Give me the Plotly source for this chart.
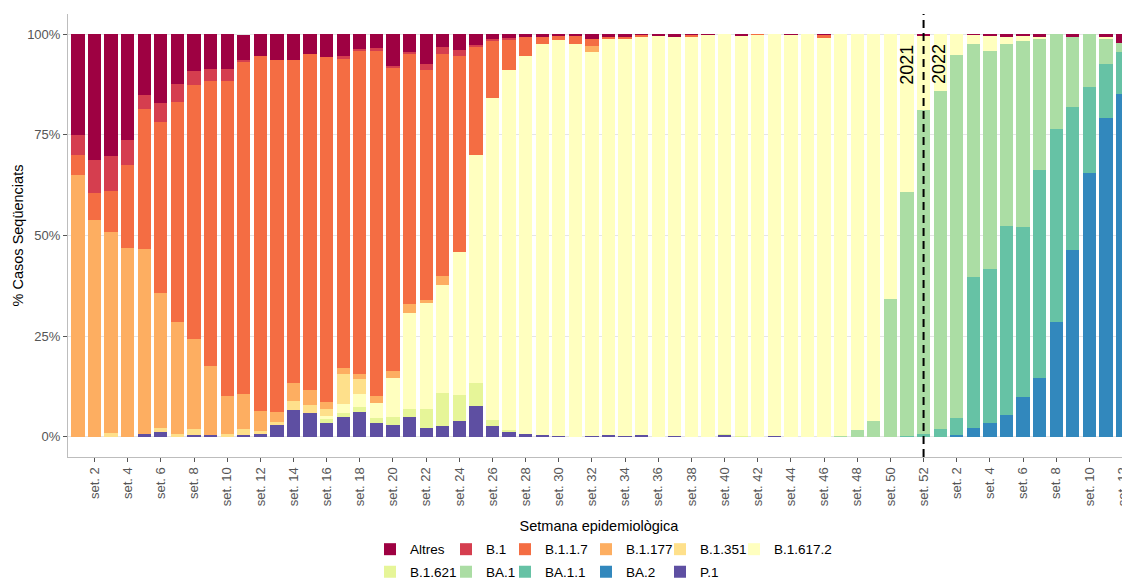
import plotly.graph_objects as go

# ---------------- data ----------------
weeks = ([f"2021-{i:02d}" for i in range(1, 53)] +
         [f"2022-{i:02d}" for i in range(1, 13)])

tick_weeks = ["2021-02", "2021-04", "2021-06", "2021-08", "2021-10", "2021-12",
              "2021-14", "2021-16", "2021-18", "2021-20", "2021-22", "2021-24",
              "2021-26", "2021-28", "2021-30", "2021-32", "2021-34", "2021-36",
              "2021-38", "2021-40", "2021-42", "2021-44", "2021-46", "2021-48",
              "2021-50", "2021-52",
              "2022-02", "2022-04", "2022-06", "2022-08", "2022-10", "2022-12"]
tick_labels = ["set. 2", "set. 4", "set. 6", "set. 8", "set. 10", "set. 12",
               "set. 14", "set. 16", "set. 18", "set. 20", "set. 22", "set. 24",
               "set. 26", "set. 28", "set. 30", "set. 32", "set. 34", "set. 36",
               "set. 38", "set. 40", "set. 42", "set. 44", "set. 46", "set. 48",
               "set. 50", "set. 52",
               "set. 2", "set. 4", "set. 6", "set. 8", "set. 10", "set. 12"]

altres = [25, 31.2, 30.2, 26.4, 15.1, 17.1, 12.3, 9.1, 8.7, 8.7, 6.2, 5.5, 6.4,
          6.5, 5.0, 5.7, 5.5, 3.7, 3.5, 8.0, 4.5, 7.3, 3.2, 3.9, 2.6, 1.2,
          1.0, 0.6, 0.7, 0.5, 0.5, 1.3, 0.8, 0.7, 0.2, 0.4, 0.7, 0.2, 0.2,
          0, 0.3, 0, 0, 0.2, 0, 0.1, 0, 0, 0, 0, 0, 0.4,
          0, 0, 0.2, 0.3, 0.8, 0.3, 0.6, 0, 0.6, 0, 0.7, 2.3]
b1 = [5, 8.3, 8.7, 6.0, 3.5, 4.8, 4.6, 3.5, 2.9, 2.9, 0.7, 0, 0,
      0, 0, 0, 0.7, 0.3, 0.6, 0.4, 0.4, 1.5, 1.7, 1.5, 0.6, 0.3,
      0.3, 0, 0, 0, 0, 0, 0, 0, 0, 0, 0, 0, 0,
      0, 0, 0, 0, 0, 0, 0, 0, 0, 0, 0, 0, 0,
      0, 0, 0, 0, 0, 0, 0, 0, 0, 0, 0, 0]
b117 = [5, 6.6, 10.2, 20.7, 34.7, 42.3, 54.5, 63.2, 70.8, 78.3, 82.4, 88.1, 87.4,
        80.1, 83.4, 85.6, 76.8, 80.3, 85.8, 75.3, 62.1, 57.1, 55.1, 48.7, 26.7, 14.3,
        7.7, 4.8, 1.7, 1.0, 1.9, 1.7, 0.4, 0.3, 0.4, 0, 0, 0.4, 0,
        0, 0, 0.2, 0, 0, 0, 0.8, 0, 0, 0, 0, 0, 0,
        0, 0, 0, 0, 0, 0, 0, 0, 0, 0, 0, 0]
b1177 = [65, 53.9, 49.9, 46.9, 46.0, 33.5, 27.9, 22.3, 17.2, 9.5, 8.7, 5.0, 2.6,
         4.4, 3.7, 1.7, 1.3, 1.4, 1.7, 1.8, 2.2, 0.8, 2.4, 0, 0, 0,
         0, 0, 0, 0, 0, 1.4, 0, 0, 0, 0, 0, 0, 0,
         0, 0, 0, 0, 0, 0, 0, 0, 0, 0, 0, 0, 0,
         0, 0, 0, 0, 0, 0, 0, 0, 0, 0, 0, 0]
b1351 = [0, 0, 1.0, 0, 0, 1.2, 0.7, 1.5, 0, 0.6, 1.4, 0.8, 0.7,
         2.3, 1.9, 1.8, 7.6, 3.7, 0, 0, 0, 0, 0, 0, 0, 0,
         0, 0, 0, 0, 0, 0, 0, 0, 0, 0, 0, 0, 0,
         0, 0, 0, 0, 0, 0, 0, 0, 0, 0, 0, 0, 0,
         0, 0, 0, 0, 0, 0, 0, 0, 0, 0, 0, 0]
b16172 = [0, 0, 0, 0, 0, 0, 0, 0, 0, 0, 0, 0, 0,
          0, 0, 0.8, 2.1, 3.1, 3.7, 9.6, 23.9, 26.3, 26.6, 35.5, 56.6, 80.1,
          89.4, 93.9, 97.2, 98.2, 97.6, 95.3, 98.3, 98.7, 98.9, 99.6, 99.0, 99.4, 99.8,
          99.2, 99.5, 99.8, 99.7, 99.8, 100, 99.1, 99.8, 98.3, 96.0, 65.7, 39.3, 18.5,
          14.0, 5.1, 2.2, 4.0, 1.6, 1.3, 0.7, 0, 0, 0, 0.3, 0]
b1621 = [0, 0, 0, 0, 0, 0, 0, 0, 0, 0, 0, 0, 0,
         0, 0, 0.9, 1.0, 1.3, 1.2, 1.9, 1.9, 4.7, 8.3, 6.4, 5.8, 1.4,
         0.2, 0, 0, 0, 0, 0, 0, 0, 0, 0, 0, 0, 0,
         0.2, 0.2, 0, 0, 0, 0, 0, 0, 0, 0, 0, 0, 0,
         0, 0, 0, 0, 0, 0, 0, 0, 0, 0, 0, 0]
ba1 = [0, 0, 0, 0, 0, 0, 0, 0, 0, 0, 0, 0, 0,
       0, 0, 0, 0, 0, 0, 0, 0, 0, 0, 0, 0, 0,
       0, 0, 0, 0, 0, 0, 0, 0, 0, 0, 0, 0, 0,
       0, 0, 0, 0, 0, 0, 0, 0.2, 1.7, 4.0, 34.3, 60.5, 80.4,
       84.1, 90.1, 57.9, 54.1, 45.3, 46.2, 32.5, 23.6, 17.6, 13.1, 6.3, 2.1]
ba11 = [0, 0, 0, 0, 0, 0, 0, 0, 0, 0, 0, 0, 0,
        0, 0, 0, 0, 0, 0, 0, 0, 0, 0, 0, 0, 0,
        0, 0, 0, 0, 0, 0, 0, 0, 0, 0, 0, 0, 0,
        0, 0, 0, 0, 0, 0, 0, 0, 0, 0, 0, 0.2, 0.7,
        1.9, 4.4, 37.6, 38.2, 46.9, 42.2, 51.5, 47.8, 35.5, 21.4, 13.6, 10.4]
ba2 = [0, 0, 0, 0, 0, 0, 0, 0, 0, 0, 0, 0, 0,
       0, 0, 0, 0, 0, 0, 0, 0, 0, 0, 0, 0, 0,
       0, 0, 0, 0, 0, 0, 0, 0, 0, 0, 0, 0, 0,
       0, 0, 0, 0, 0, 0, 0, 0, 0, 0, 0, 0, 0,
       0, 0.4, 2.1, 3.4, 5.4, 10.0, 14.7, 28.6, 46.3, 65.5, 79.1, 85.2]
p1 = [0, 0, 0, 0, 0.7, 1.1, 0, 0.4, 0.4, 0, 0.5, 0.6, 2.9,
      6.7, 6.0, 3.5, 5.0, 6.2, 3.5, 3.0, 5.0, 2.3, 2.7, 4.0, 7.7, 2.7,
      1.4, 0.7, 0.4, 0.3, 0, 0.3, 0.5, 0.3, 0.5, 0, 0.3, 0, 0,
      0.6, 0, 0, 0.3, 0, 0, 0, 0, 0, 0, 0, 0, 0,
      0, 0, 0, 0, 0, 0, 0, 0, 0, 0, 0, 0]

variants = ["Altres", "B.1", "B.1.1.7", "B.1.177", "B.1.351", "B.1.617.2",
            "B.1.621", "BA.1", "BA.1.1", "BA.2", "P.1"]
series = [altres, b1, b117, b1177, b1351, b16172, b1621, ba1, ba11, ba2, p1]
colors = ["#9E0142", "#D53E4F", "#F46D43", "#FDAE61", "#FEE08B", "#FFFFBF",
          "#E6F598", "#ABDDA4", "#66C2A5", "#3288BD", "#5E4FA2"]

# ---------------- figure ----------------
FONT = "Liberation Sans, Arial, Helvetica, sans-serif"
fig = go.Figure()

# The page body has an 8px margin, so the figure is shifted by 8px.
OFF = 8
FIG_W, FIG_H = 1130 - OFF, 581 - OFF
L = 68 - OFF          # plot area left (figure coords)
T = 14 - OFF          # plot area top
B = FIG_H - (457.5 - OFF)  # bottom margin
PLOT_W = FIG_W - L
PLOT_H = FIG_H - T - B

# legend layout: 6 columns x 2 rows, filled by row
ncol = 6
col_px = [370, 446, 505, 586, 660, 734]   # page x of each legend column

# stack order: last variant at bottom
for k in range(len(variants) - 1, -1, -1):
    col = k % ncol
    row = k // ncol
    lg = "legend" if col == 0 else f"legend{col + 1}"
    fig.add_trace(go.Bar(
        x=weeks, y=series[k], name=variants[k],
        marker=dict(color=colors[k], line=dict(width=0)),
        width=0.8, legend=lg, legendgroup=variants[k], legendrank=row + 1,
        hovertemplate="%{x}<br>" + variants[k] + ": %{y}%<extra></extra>",
    ))

legend_top_below_plot = 77  # px below plot bottom
legends = {}
for c in range(ncol):
    key = "legend" if c == 0 else f"legend{c + 1}"
    legends[key] = dict(
        orientation="v", x=(col_px[c] - OFF - L) / PLOT_W, xanchor="left",
        y=-legend_top_below_plot / PLOT_H, yanchor="top",
        bgcolor="rgba(0,0,0,0)",
        font=dict(family=FONT, size=13.5, color="#000"),
        tracegroupgap=2, traceorder="grouped",
    )

i52 = weeks.index("2021-52")
fig.add_shape(type="line", xref="x", yref="paper", x0=i52, x1=i52, y0=0, y1=1,
              line=dict(color="black", width=2, dash="8px,5px"))
fig.add_annotation(x=i52 - 0.97, y=92.5, xref="x", yref="y", text="2021",
                   textangle=-90, showarrow=False,
                   font=dict(family=FONT, size=18, color="black"))
fig.add_annotation(x=i52 + 0.97, y=92.5, xref="x", yref="y", text="2022",
                   textangle=-90, showarrow=False,
                   font=dict(family=FONT, size=18, color="black"))

fig.update_layout(
    width=FIG_W, height=FIG_H,
    margin=dict(l=L, r=0, t=T, b=B, autoexpand=False),
    barmode="stack",
    plot_bgcolor="white", paper_bgcolor="white",
    font=dict(family=FONT, color="#000"),
    showlegend=True,
    **legends,
)
fig.update_xaxes(
    type="category", categoryorder="array", categoryarray=weeks,
    range=[-0.6, 63.45], tickmode="array", tickvals=tick_weeks,
    ticktext=tick_labels, tickangle=-90, ticks="outside", ticklen=4,
    tickcolor="#555555", showline=True, linecolor="#BDBDBD", linewidth=1,
    showgrid=False, zeroline=False, automargin=False,
    tickfont=dict(family=FONT, size=13, color="#555555"),
    title=dict(text="Setmana epidemiològica", standoff=15,
               font=dict(family=FONT, size=14.5, color="#000")),
)
fig.update_yaxes(
    range=[-5, 105], tickmode="array", tickvals=[0, 25, 50, 75, 100],
    ticktext=["0%", "25%", "50%", "75%", "100%"], ticks="outside", ticklen=4,
    tickcolor="#555555", showline=True, linecolor="#BDBDBD", linewidth=1,
    showgrid=True, gridcolor="#E5E5E5", gridwidth=1, zeroline=False,
    automargin=False,
    tickfont=dict(family=FONT, size=13, color="#555555"),
    title=dict(text="% Casos Seqüenciats", standoff=0,
               font=dict(family=FONT, size=14.5, color="#000")),
)

fig.write_html("out.html")
